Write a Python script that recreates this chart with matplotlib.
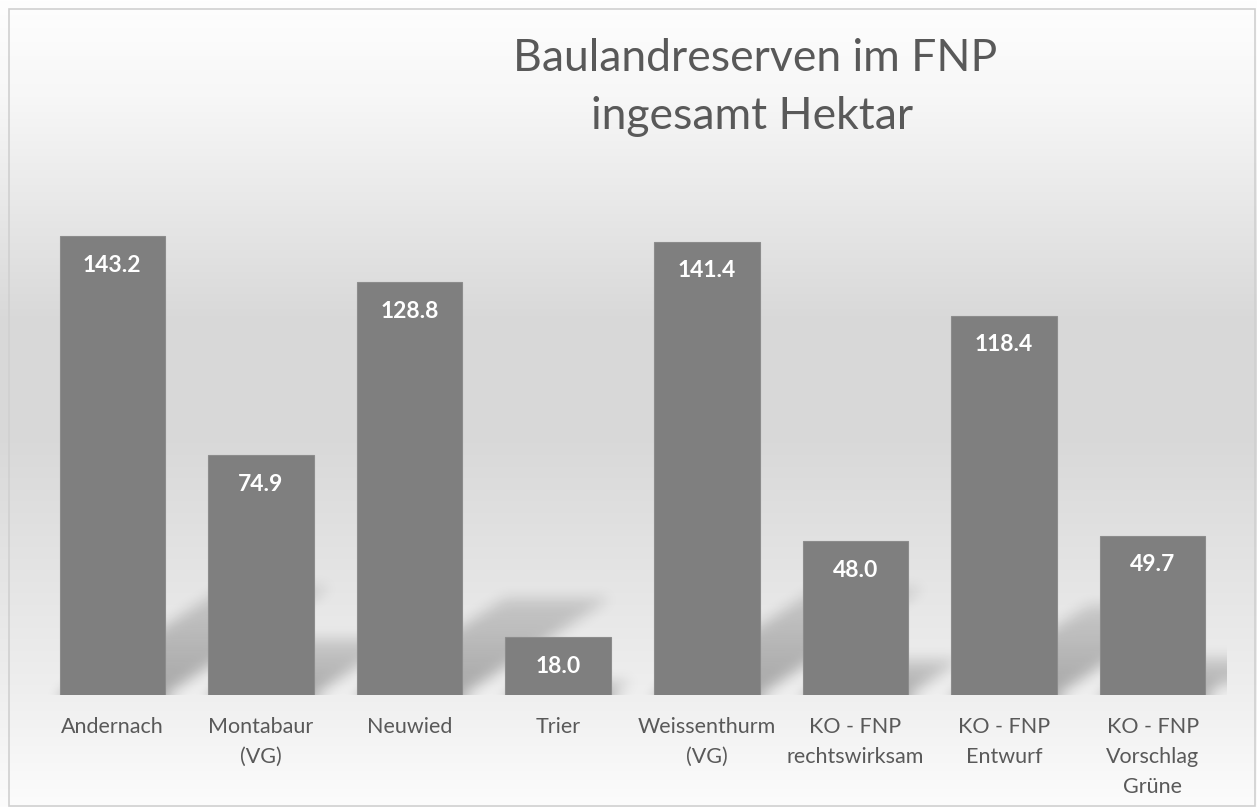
import numpy as np
import matplotlib
matplotlib.use('Agg')
import matplotlib.pyplot as plt
from matplotlib.patches import Rectangle

# Daten
categories = ['Andernach', 'Montabaur\n(VG)', 'Neuwied', 'Trier', 'Weissenthurm\n(VG)',
              'KO - FNP\nrechtswirksam', 'KO - FNP\nEntwurf', 'KO - FNP\nVorschlag\nGrüne']
values = [143.2, 74.9, 128.8, 18.0, 141.4, 48.0, 118.4, 49.7]
title_lines = ['Baulandreserven im FNP', 'ingesamt Hektar']

plt.rcParams['font.family'] = ['Lato', 'DejaVu Sans']

W, H = 1257, 807
fig = plt.figure(figsize=(W / 100, H / 100), dpi=100)

# Hintergrund mit Verlauf
bg = fig.add_axes([0, 0, 1, 1], zorder=0)
bg.set_axis_off()
yy = np.linspace(0, 1, 400)
stops_y = [0.0, 0.12, 0.40, 0.55, 0.85, 1.0]
stops_v = [254, 247, 216, 217, 238, 252]
grad = np.interp(yy, stops_y, stops_v) / 255.0
img = np.repeat(grad[:, None], 2, axis=1)
bg.imshow(np.dstack([img, img, img]), aspect='auto', extent=(0, 1, 0, 1), origin='upper')
bg.set_xlim(0, 1)
bg.set_ylim(0, 1)
bg.add_patch(Rectangle((9 / W, 1 - 806 / H), 1246 / W, 797 / H, fill=False,
                       edgecolor='#d0d0d0', lw=1.2, transform=bg.transAxes))

# Diagramm
left_px, right_px, bottom_px, ymax = 38, 1227, 695, 160
px_per_unit = 3.205
top_px = bottom_px - ymax * px_per_unit
ax = fig.add_axes([left_px / W, 1 - bottom_px / H, (right_px - left_px) / W,
                   (bottom_px - top_px) / H], zorder=1)
ax.patch.set_alpha(0)
n = len(values)
x = np.arange(n)
bar_w = 0.71
ax.set_xlim(-0.5, n - 0.5)
ax.set_ylim(0, ymax)

# perspektivische Schatten
nx, ny = right_px - left_px, int(round(bottom_px - top_px))
gx = -0.5 + (np.arange(nx) + 0.5) * n / nx
gy = (np.arange(ny) + 0.5) * ymax / ny
X, Y = np.meshgrid(gx, gy)
shade = np.zeros_like(X)
shear = 0.033
for xi, h in zip(x, values):
    ytop = 0.236 * h
    m = (Y <= ytop) & (np.abs(X - shear * Y - xi) <= bar_w / 2)
    a = 0.30 * (1 - 0.55 * Y / ytop)
    shade = np.maximum(shade, np.where(m, a, 0))


def box_blur(arr, r, axis):
    pad = [(0, 0), (0, 0)]
    pad[axis] = (r + 1, r)
    p = np.pad(arr, pad, mode='edge')
    c = np.cumsum(p, axis=axis)
    if axis == 0:
        return (c[2 * r + 1:] - c[:-2 * r - 1]) / (2 * r + 1)
    return (c[:, 2 * r + 1:] - c[:, :-2 * r - 1]) / (2 * r + 1)


for _ in range(3):
    shade = box_blur(shade, 6, 0)
    shade = box_blur(shade, 6, 1)
rgba = np.zeros((ny, nx, 4))
rgba[..., 3] = shade
ax.imshow(rgba, extent=(-0.5, n - 0.5, 0, ymax), origin='lower', aspect='auto', zorder=1)

ax.bar(x, values, width=bar_w, color='#7f7f7f', edgecolor='#8c8c8c', linewidth=0.8, zorder=2)
for xi, v in zip(x, values):
    ax.annotate(f'{v:.1f}', (xi, v), xytext=(0, -21), textcoords='offset points',
                ha='center', va='center', color='white', fontsize=16.5,
                fontweight='bold', zorder=3)

ax.set_xticks(x)
ax.set_xticklabels(categories, fontsize=15.5, color='#595959', linespacing=1.62)
ax.tick_params(axis='x', length=0, pad=16)
ax.set_yticks([])
for s in ax.spines.values():
    s.set_visible(False)

# Titel
fig.text(755 / W, 1 - 71 / H, title_lines[0], ha='center', va='baseline',
         fontsize=32, color='#595959')
fig.text(752 / W, 1 - 129 / H, title_lines[1], ha='center', va='baseline',
         fontsize=32, color='#595959')

fig.savefig('out.png', dpi=100)
